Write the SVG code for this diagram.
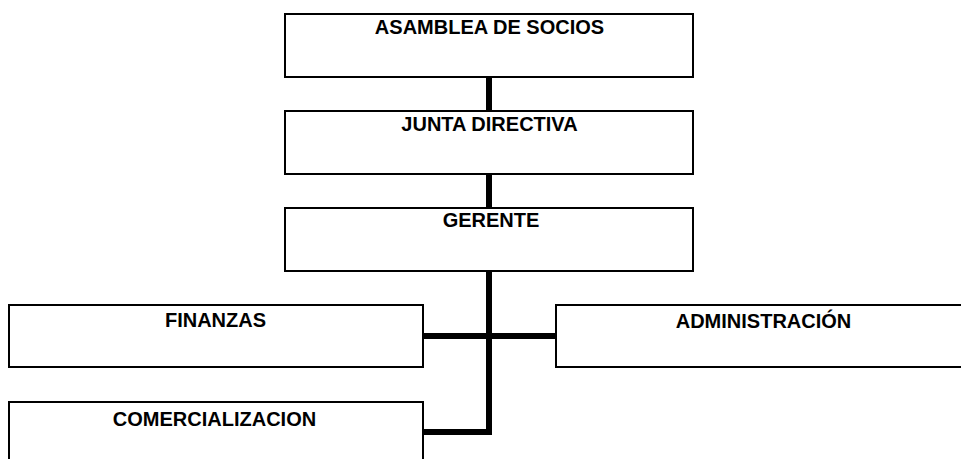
<svg xmlns="http://www.w3.org/2000/svg" width="961" height="459" viewBox="0 0 961 459">
<style>
.box{fill:#fff;stroke:#000;stroke-width:2}
.lbl{font-family:"Liberation Sans",Arial,sans-serif;font-weight:bold;font-size:20px;fill:#000;text-anchor:middle}
.con{stroke:#000;stroke-width:6;fill:none}
</style>
<rect width="961" height="459" fill="#fff"/>
<g id="connectors">
<line class="con" x1="489" y1="77" x2="489" y2="111"/>
<line class="con" x1="489" y1="174" x2="489" y2="208"/>
<polyline class="con" points="489,271 489,432 423,432"/>
<line class="con" x1="423" y1="336" x2="556" y2="336"/>
</g>
<g id="asamblea">
<rect class="box" x="285" y="14" width="408" height="63"/>
<text class="lbl" x="489.5" y="34">ASAMBLEA DE SOCIOS</text>
</g>
<g id="junta">
<rect class="box" x="285" y="111" width="408" height="63"/>
<text class="lbl" x="489.5" y="131">JUNTA DIRECTIVA</text>
</g>
<g id="gerente">
<rect class="box" x="285" y="208" width="408" height="63"/>
<text class="lbl" x="491" y="227">GERENTE</text>
</g>
<g id="finanzas">
<rect class="box" x="9" y="305" width="414" height="62"/>
<text class="lbl" x="215.5" y="327">FINANZAS</text>
</g>
<g id="administracion">
<rect class="box" x="556" y="305" width="420" height="62"/>
<text class="lbl" x="763.5" y="328">ADMINISTRACIÓN</text>
</g>
<g id="comercializacion">
<rect class="box" x="9" y="402" width="414" height="62"/>
<text class="lbl" x="214.5" y="426">COMERCIALIZACION</text>
</g>
</svg>
